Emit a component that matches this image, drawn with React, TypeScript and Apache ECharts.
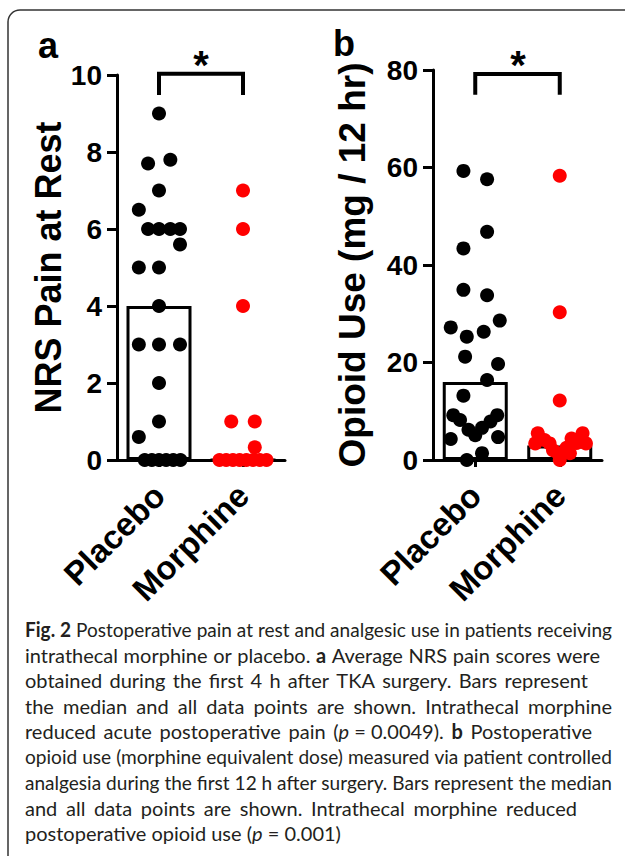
import React, { useEffect, useRef } from "react";
import * as echarts from "echarts";

const categories = ["Placebo", "Morphine"];
const yTicksPain = { min: 0, max: 10, interval: 2 };
const yTicksOpioid = { min: 0, max: 80, interval: 20 };

// medians (bars)
const medianPain = [4, 0];
const medianOpioid = [16, 3];

// individual points: [x position on the group axis (1 = Placebo, 2 = Morphine), value]
const painPlacebo: [number, number][] = [
  [1.0, 9.0], [0.87, 7.7], [1.135, 7.8], [1.0, 7.0], [0.76, 6.5],
  [0.87, 6.0], [1.0, 6.0], [1.135, 6.0], [1.25, 6.0], [1.25, 5.6],
  [0.76, 5.0], [1.0, 5.0], [1.0, 4.0], [0.76, 3.0], [1.0, 3.0],
  [1.25, 3.0], [1.0, 2.0], [1.0, 1.0], [0.76, 0.6],
  [0.83, 0], [0.915, 0], [1.0, 0], [1.085, 0], [1.17, 0], [1.255, 0],
];
const painMorphine: [number, number][] = [
  [2.0, 7.0], [2.0, 6.0], [2.0, 4.0], [1.86, 1.0], [2.14, 1.0], [2.14, 0.33],
  [1.72, 0], [1.8, 0], [1.88, 0], [1.96, 0], [2.04, 0], [2.12, 0], [2.2, 0], [2.28, 0],
];
const opioidPlacebo: [number, number][] = [
  [0.86, 59.3], [1.14, 57.6], [1.14, 46.8], [0.86, 43.4], [0.86, 34.9],
  [1.14, 33.8], [0.71, 27.2], [1.29, 28.6], [0.9, 25.3], [1.1, 26.3],
  [0.88, 21.2], [1.27, 19.7], [1.14, 16.4], [0.86, 13.2],
  [0.74, 9.2], [0.82, 8.2], [0.92, 6.2], [1.0, 5.1], [1.08, 6.6], [1.18, 7.9], [1.26, 9.2],
  [0.71, 4.3], [1.27, 4.7], [0.9, 0], [1.08, 1.4],
];
const opioidMorphine: [number, number][] = [
  [2.0, 58.3], [2.0, 30.3], [2.0, 12.2],
  [1.74, 5.5], [1.71, 3.4], [1.82, 4.1], [1.88, 3.4], [1.92, 2.0], [1.98, 1.4], [2.0, 0],
  [2.08, 2.5], [2.12, 1.4], [2.14, 4.4], [2.2, 3.5], [2.27, 5.5], [2.31, 3.4],
];

// significance brackets [group, value]
const bracketPain: [number, number][] = [[1, 9.48], [1, 10.03], [2, 10.03], [2, 9.48]];
const bracketOpioid: [number, number][] = [[1, 74.9], [1, 79.2], [2, 79.2], [2, 74.9]];

const captionLines = [
  "**Fig. 2** Postoperative pain at rest and analgesic use in patients receiving",
  "intrathecal morphine or placebo. **a** Average NRS pain scores were",
  "obtained during the first 4 h after TKA surgery. Bars represent",
  "the median and all data points are shown. Intrathecal morphine",
  "reduced acute postoperative pain (_p_\u00a0=\u00a00.0049). **b** Postoperative",
  "opioid use (morphine equivalent dose) measured via patient controlled",
  "analgesia during the first 12 h after surgery. Bars represent the median",
  "and all data points are shown. Intrathecal morphine reduced",
  "postoperative opioid use (_p_\u00a0=\u00a00.001)",
];
// right edge (px) each caption line is spread to; 0 = natural width
const captionLineEnds = [612, 600, 588, 612, 592, 612, 612, 577, 0];

const FONT = "'Liberation Sans', Arial, sans-serif";
const CAP_FONT = "Lato, 'Open Sans', sans-serif";

type Run = { t: string; b: boolean; i: boolean };

function parseLine(line: string): Run[][] {
  const runs: Run[] = [];
  const re = /\*\*(.+?)\*\*|_(.+?)_|([^*_]+)/g;
  let m: RegExpExecArray | null;
  while ((m = re.exec(line))) {
    if (m[1] !== undefined) runs.push({ t: m[1], b: true, i: false });
    else if (m[2] !== undefined) runs.push({ t: m[2], b: false, i: true });
    else runs.push({ t: m[3], b: false, i: false });
  }
  const words: Run[][] = [];
  let cur: Run[] = [];
  runs.forEach((r) => {
    const parts = r.t.split(" ");
    parts.forEach((p, k) => {
      if (k > 0) {
        if (cur.length) words.push(cur);
        cur = [];
      }
      if (p.length) cur.push({ t: p, b: r.b, i: r.i });
    });
  });
  if (cur.length) words.push(cur);
  return words;
}

function captionGraphics(size: number, left: number, y0: number, lh: number) {
  const ctx = document.createElement("canvas").getContext("2d")!;
  const fontOf = (r: Run) => `${r.i ? "italic " : ""}${r.b ? "bold " : ""}${size}px ${CAP_FONT}`;
  const measure = (r: Run) => {
    ctx.font = fontOf(r);
    return ctx.measureText(r.t).width;
  };
  ctx.font = `${size}px ${CAP_FONT}`;
  const spaceW = ctx.measureText(" ").width;
  const out: any[] = [];
  captionLines.forEach((line, li) => {
    const words = parseLine(line);
    const ww = words.map((w) => w.reduce((s, r) => s + measure(r), 0));
    const sum = ww.reduce((a, b) => a + b, 0);
    const n = words.length;
    const natural = sum + spaceW * (n - 1);
    let gap = spaceW;
    let scale = 1;
    const end = captionLineEnds[li];
    if (end > 0) {
      const target = end - left;
      if (natural <= target) gap = (target - sum) / (n - 1);
      else scale = target / natural;
    }
    const children: any[] = [];
    let x = 0;
    words.forEach((w, wi) => {
      let rx = x;
      w.forEach((r) => {
        children.push({
          type: "text",
          x: rx,
          y: 0,
          style: {
            text: r.t,
            font: fontOf(r),
            fill: "#231f20",
            align: "left",
            verticalAlign: "middle",
          },
        });
        rx += measure(r);
      });
      x += ww[wi] + gap;
    });
    out.push({ type: "group", x: left, y: y0 + li * lh, scaleX: scale, children });
  });
  return out;
}

function App() {
  const ref = useRef<HTMLDivElement>(null);
  useEffect(() => {
    if (!ref.current) return;
    const chart = echarts.init(ref.current, null, { renderer: "svg" });

    const axisLine = { show: true, lineStyle: { color: "#000", width: 3 } };
    const catAxis = (gridIndex: number) => ({
      type: "category",
      gridIndex,
      data: categories,
      boundaryGap: true,
      axisLine: { ...axisLine, onZero: false },
      axisTick: { show: true, alignWithLabel: true, length: 7, lineStyle: { color: "#000", width: 3 } },
      axisLabel: {
        rotate: 45,
        interval: 0,
        margin: 30,
        color: "#000",
        fontSize: 33,
        fontWeight: "bold",
        fontFamily: FONT,
      },
      splitLine: { show: false },
    });
    const posAxis = (gridIndex: number) => ({
      type: "value",
      gridIndex,
      min: 0.5,
      max: 2.5,
      show: false,
    });
    const valAxis = (gridIndex: number, t: any, name: string, nameGap: number, nameSize: number) => ({
      type: "value",
      gridIndex,
      min: t.min,
      max: t.max,
      interval: t.interval,
      name,
      nameLocation: "middle",
      nameGap,
      nameTextStyle: { color: "#000", fontSize: nameSize, fontWeight: "bold", fontFamily: FONT },
      axisLine,
      axisTick: { show: true, length: 10, lineStyle: { color: "#000", width: 3 } },
      axisLabel: { color: "#000", fontSize: 28, fontWeight: "bold", fontFamily: FONT, margin: 15 },
      splitLine: { show: false },
    });

    const barStyle = { color: "transparent", borderColor: "#000", borderWidth: 3 };
    const dots = (data: [number, number][], x: number, y: number, color: string) => ({
      type: "scatter",
      xAxisIndex: x,
      yAxisIndex: y,
      data,
      symbol: "circle",
      symbolSize: 14,
      clip: false,
      itemStyle: { color, opacity: 1 },
      z: 5,
    });
    const bracket = (data: [number, number][], x: number, y: number) => ({
      type: "line",
      xAxisIndex: x,
      yAxisIndex: y,
      data,
      symbol: "none",
      clip: false,
      lineStyle: { color: "#000", width: 4, join: "miter" },
      z: 6,
    });

    const option: any = {
      animation: false,
      backgroundColor: "#fff",
      grid: [
        { left: 117, top: 75, width: 168, height: 385 },
        { left: 433, top: 70, width: 169, height: 390 },
      ],
      xAxis: [catAxis(0), posAxis(0), catAxis(1), posAxis(1)],
      yAxis: [
        valAxis(0, yTicksPain, "NRS Pain at Rest", 50, 36),
        valAxis(1, yTicksOpioid, "Opioid Use (mg / 12 hr)", 62, 37),
      ],
      series: [
        { type: "bar", xAxisIndex: 0, yAxisIndex: 0, data: medianPain, barWidth: 65, itemStyle: barStyle, z: 3 },
        { type: "bar", xAxisIndex: 2, yAxisIndex: 1, data: medianOpioid, barWidth: 65, itemStyle: barStyle, z: 3 },
        dots(painPlacebo, 1, 0, "#000"),
        dots(painMorphine, 1, 0, "#ff0000"),
        dots(opioidPlacebo, 3, 1, "#000"),
        dots(opioidMorphine, 3, 1, "#ff0000"),
        bracket(bracketPain, 1, 0),
        bracket(bracketOpioid, 3, 1),
      ],
      graphic: [
        {
          type: "rect",
          shape: { x: 8, y: 10, width: 700, height: 900, r: 12 },
          style: { fill: "none", stroke: "#333", lineWidth: 1.5 },
          z: -1,
        },
        {
          type: "text",
          x: 38,
          y: 45,
          style: { text: "a", font: `bold 36px ${FONT}`, fill: "#000", align: "left", verticalAlign: "middle" },
        },
        {
          type: "text",
          x: 333,
          y: 43,
          style: { text: "b", font: `bold 36px ${FONT}`, fill: "#000", align: "left", verticalAlign: "middle" },
        },
        {
          type: "text",
          x: 201,
          y: 65,
          style: { text: "*", font: `bold 40px ${FONT}`, fill: "#000", align: "center", verticalAlign: "middle" },
        },
        {
          type: "text",
          x: 518,
          y: 65,
          style: { text: "*", font: `bold 40px ${FONT}`, fill: "#000", align: "center", verticalAlign: "middle" },
        },
        ...captionGraphics(20, 25, 629, 25.5),
      ],
    };
    chart.setOption(option);
    return () => chart.dispose();
  }, []);
  return (
    <div
      ref={ref}
      style={{ position: "fixed", left: 0, top: 0, width: 625, height: 856, background: "#fff" }}
    />
  );
}

export default App;
